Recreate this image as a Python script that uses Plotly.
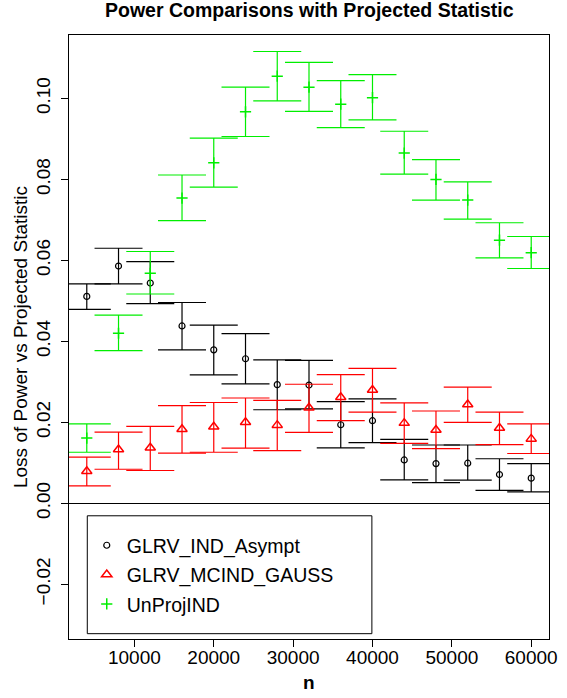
import plotly.graph_objects as go

n_values = [4000, 8000, 12000, 16000, 20000, 24000, 28000, 32000,
            36000, 40000, 44000, 48000, 52000, 56000, 60000]

asympt = [0.0511, 0.0586, 0.0544, 0.0438, 0.0379, 0.0357, 0.0293, 0.0292,
          0.0194, 0.0204, 0.0107, 0.0098, 0.0099, 0.0071, 0.0062]
asympt_hi = [0.0542, 0.0630, 0.0597, 0.0496, 0.0440, 0.0419, 0.0354, 0.0353,
             0.0251, 0.0258, 0.0158, 0.0144, 0.0144, 0.0110, 0.0098]
asympt_lo = [0.0479, 0.0542, 0.0493, 0.0379, 0.0317, 0.0295, 0.0231, 0.0233,
             0.0137, 0.0150, 0.0058, 0.0051, 0.0057, 0.0032, 0.0028]

gauss = [0.0079, 0.0133, 0.0137, 0.0183, 0.0189, 0.0200, 0.0193, 0.0236,
         0.0262, 0.0280, 0.0198, 0.0181, 0.0244, 0.0186, 0.0159]
gauss_hi = [0.0114, 0.0176, 0.0190, 0.0241, 0.0249, 0.0260, 0.0254, 0.0294,
            0.0318, 0.0333, 0.0248, 0.0228, 0.0287, 0.0225, 0.0196]
gauss_lo = [0.0043, 0.0084, 0.0081, 0.0124, 0.0126, 0.0136, 0.0130, 0.0175,
            0.0204, 0.0225, 0.0148, 0.0135, 0.0200, 0.0145, 0.0123]

unproj = [0.0161, 0.0420, 0.0568, 0.0754, 0.0841, 0.0967, 0.1055, 0.1028,
          0.0986, 0.1002, 0.0865, 0.0800, 0.0749, 0.0650, 0.0619]
unproj_hi = [0.0196, 0.0465, 0.0622, 0.0811, 0.0902, 0.1028, 0.1116, 0.1089,
             0.1044, 0.1059, 0.0919, 0.0849, 0.0794, 0.0693, 0.0659]
unproj_lo = [0.0126, 0.0377, 0.0517, 0.0698, 0.0781, 0.0906, 0.0994, 0.0968,
             0.0928, 0.0947, 0.0813, 0.0749, 0.0702, 0.0606, 0.0580]

series_names = ["GLRV_IND_Asympt", "GLRV_MCIND_GAUSS", "UnProjIND"]
x_ticks = [10000, 20000, 30000, 40000, 50000, 60000]
y_ticks = [-0.02, 0.00, 0.02, 0.04, 0.06, 0.08, 0.10]

FONT = "Liberation Sans, Arial, Helvetica, sans-serif"

fig = go.Figure()

def add_series(name, v, hi, lo, color, symbol, size, lw, group):
    fig.add_trace(go.Scatter(
        x=n_values, y=v, name=name, mode="markers",
        legendgroup=group,
        marker=dict(symbol=symbol, size=size, color=color,
                    line=dict(color=color, width=lw)),
        error_y=dict(type="data", symmetric=False,
                     array=[h - a for h, a in zip(hi, v)],
                     arrayminus=[a - l for a, l in zip(v, lo)],
                     color=color, thickness=1.2, width=24),
    ))

add_series(series_names[0], asympt, asympt_hi, asympt_lo, "#000000", "circle-open", 6, 1.2, "a")
add_series(series_names[1], gauss, gauss_hi, gauss_lo, "#FF0000", "triangle-up-open", 9, 1.5, "b")
add_series(series_names[2], unproj, unproj_hi, unproj_lo, "#00EE00", "cross-thin-open", 8, 1.5, "c")

axis_common = dict(
    showgrid=False, showline=True, linecolor="black", linewidth=1,
    mirror=True, ticks="outside", ticklen=7, tickcolor="black", tickwidth=1,
    tickfont=dict(family=FONT, size=19, color="black"),
)

fig.update_xaxes(range=[1760, 62240], tickvals=x_ticks,
                 ticktext=[str(t) for t in x_ticks], zeroline=False,
                 ticklabelstandoff=-6, **axis_common)
fig.update_yaxes(range=[-0.03353, 0.11568], tickvals=y_ticks,
                 ticktext=["\u22120.02", "0.00", "0.02", "0.04", "0.06", "0.08", "0.10"],
                 tickangle=-90, zeroline=True, zerolinecolor="black",
                 zerolinewidth=1, ticklabelstandoff=3, **axis_common)

fig.update_layout(
    width=567, height=698, autosize=False,
    margin=dict(l=69, r=18, t=35, b=59, autoexpand=False),
    paper_bgcolor="white", plot_bgcolor="white",
    font=dict(family=FONT, color="black"),
    showlegend=True,
    legend=dict(x=0.037, y=0.187, xanchor="left", yanchor="top",
                bgcolor="rgba(0,0,0,0)", borderwidth=0,
                font=dict(family=FONT, size=19.5, color="black"),
                tracegroupgap=1),
    shapes=[dict(type="rect", xref="paper", yref="paper",
                 x0=0.0381, x1=0.631, y0=0.0088, y1=0.204,
                 line=dict(color="black", width=1), fillcolor="rgba(0,0,0,0)")],
    annotations=[
        dict(text="<b>Power Comparisons with Projected Statistic</b>",
             xref="paper", yref="paper", x=0.5, y=1 + (35 - 10) / 604.3,
             xanchor="center", yanchor="middle", showarrow=False,
             font=dict(family=FONT, size=19.5, color="black")),
        dict(text="Loss of Power vs Projected Statistic",
             xref="paper", yref="paper", x=(20 - 69) / 480.3, y=0.5,
             xanchor="center", yanchor="middle", textangle=-90, showarrow=False,
             font=dict(family=FONT, size=19, color="black")),
        dict(text="<b>n</b>",
             xref="paper", yref="paper", x=0.5, y=(639.3 - 683) / 604.3,
             xanchor="center", yanchor="middle", showarrow=False,
             font=dict(family=FONT, size=19, color="black")),
    ],
)

fig.write_html("out.html",
               config={"displayModeBar": False},
               post_script="document.body.style.margin='0';document.body.style.padding='0';")
